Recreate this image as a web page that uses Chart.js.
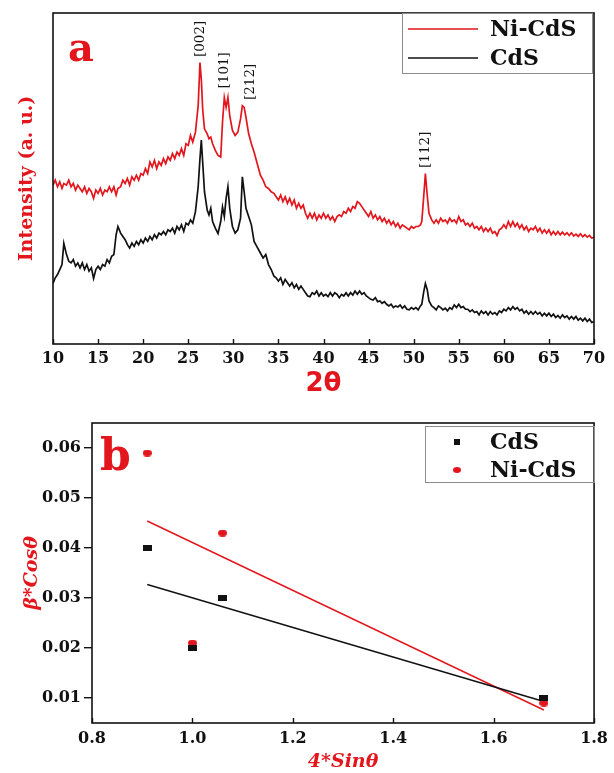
<!DOCTYPE html>
<html lang="en">
<head>
<meta charset="UTF-8">
<title>XRD patterns and W-H plot</title>
<script src="https://cdn.jsdelivr.net/npm/chart.js"></script>
<style>
  html, body { margin: 0; padding: 0; background: #fff; }
  .page { position: relative; width: 614px; height: 773px; overflow: hidden; }
  canvas { position: absolute; left: 0; }
  #xrd { top: 0; }
  #wh { top: 400px; }
</style>
</head>
<body>
<div class="page">
  <canvas id="xrd" width="614" height="400"></canvas>
  <canvas id="wh" width="614" height="373"></canvas>
</div>

<script>
const RED = '#e2161c';
const BLACK = '#111111';

// ---- panel a : XRD patterns (intensity in arbitrary units)
const twoTheta = [
  10, 10.25, 10.5, 10.75, 11, 11.2, 11.5, 11.75, 12, 12.25,
  12.5, 12.75, 13, 13.25, 13.5, 13.75, 14, 14.25, 14.5, 14.75,
  15, 15.25, 15.5, 15.75, 16, 16.25, 16.5, 16.75, 17, 17.2,
  17.5, 17.75, 18, 18.25, 18.5, 18.75, 19, 19.25, 19.5, 19.75,
  20, 20.25, 20.5, 20.75, 21, 21.25, 21.5, 21.75, 22, 22.25,
  22.5, 22.75, 23, 23.25, 23.5, 23.75, 24, 24.25, 24.5, 24.75,
  25, 25.25, 25.5,
  25.8, 26.1, 26.3, 26.45, 26.6, 26.8, 27.1, 27.3, 27.5, 27.7,
  28, 28.3, 28.6, 28.8, 29, 29.2, 29.4, 29.6, 29.9, 30.2,
  30.5, 30.8, 31, 31.2, 31.4, 31.7, 32, 32.3, 32.6, 33,
  33.3, 33.6, 33.9, 34.2, 34.5,
  34.75, 35, 35.25, 35.5, 35.75, 36, 36.25, 36.5, 36.75, 37,
  37.25, 37.5, 37.75, 38, 38.25, 38.5, 38.75, 39, 39.25, 39.5,
  39.75, 40, 40.25, 40.5, 40.75, 41, 41.25, 41.5, 41.75, 42,
  42.25, 42.5, 42.75, 43, 43.25, 43.5, 43.75, 44, 44.25, 44.5,
  44.75, 45, 45.25, 45.5, 45.75, 46, 46.25, 46.5, 46.75, 47,
  47.25, 47.5, 47.75, 48, 48.25, 48.5, 48.75, 49, 49.25, 49.5,
  49.75, 50, 50.25, 50.5, 50.75,
  50.9, 51.1, 51.3, 51.5, 51.7, 52,
  52.25, 52.5, 52.75, 53, 53.25, 53.5, 53.75, 54, 54.25, 54.5,
  54.75, 55, 55.25, 55.5, 55.75, 56, 56.25, 56.5, 56.75, 57,
  57.25, 57.5, 57.75, 58, 58.25, 58.5, 58.75, 59, 59.25, 59.5,
  59.75, 60, 60.25, 60.5, 60.75, 61, 61.25, 61.5, 61.75, 62,
  62.25, 62.5, 62.75, 63, 63.25, 63.5, 63.75, 64, 64.25, 64.5,
  64.75, 65, 65.25, 65.5, 65.75, 66, 66.25, 66.5, 66.75, 67,
  67.25, 67.5, 67.75, 68, 68.25, 68.5, 68.75, 69, 69.25, 69.5,
  69.75, 70
];
const niCdS = [
  48, 49.5, 47.5, 49, 47, 48.5, 48, 49.5, 47.5, 48.5,
  46.5, 48, 47, 46, 47.5, 45.5, 47, 46, 44, 46.5,
  45.5, 47, 45, 46.5, 46, 47.5, 46, 47.5, 45, 47,
  47.5, 49.5, 48.5, 50, 48, 50.5, 49.5, 51, 49.5, 51.5,
  51, 53, 51.5, 55, 53.5, 55.5, 53, 55, 54, 56,
  54.5, 56.5, 55.5, 57.5, 56, 58, 57, 59, 57, 60.5,
  60, 63, 61,
  64, 72, 85, 80, 71, 65, 63.5, 62, 62.5, 60.5,
  58.5, 57, 56.5, 67, 74.5, 71.5, 74.5, 69, 64.5, 63,
  64, 68, 72, 71.5, 68.5, 63.5, 60.5, 58, 55, 51,
  49.5, 47.5, 47, 46, 45.5,
  44.5, 43.5, 45, 43, 44.5, 42.5, 44, 42, 43.5, 41,
  42.5, 41, 42, 39.5, 38, 39.5, 38, 39.5, 37.5, 39,
  38, 39.5, 38, 39, 37.5, 38.5, 37, 38.5, 39, 38.5,
  40, 39.5, 41, 40, 41.5, 41, 43, 42.5, 41.5, 40.5,
  39.5, 38.5, 40, 38, 39, 37.5, 38.5, 37, 38, 36.5,
  37.5, 36, 37, 35.5, 36.5, 35, 36, 35.5, 35, 34.5,
  35.5, 35, 35.5, 35.5, 36,
  37, 44, 51.5, 45, 39.5, 37.5,
  36.5, 37.5, 36.5, 38, 37, 37.5, 36.5, 38, 37, 37.5,
  36.5, 38.5, 37, 37.5, 36, 36.5, 35.5, 36.5, 35, 35.5,
  34.5, 35.5, 34, 35, 34, 35, 33.5, 34, 32.8, 34.5,
  35, 36, 35, 37, 35.5, 37, 35.5, 36.5, 35, 36,
  34.5, 35.5, 34, 35, 34.5, 35.5, 34, 35, 33.5, 34.5,
  33.5, 34.5, 33, 34, 33, 34, 33, 33.8, 33, 33.6,
  32.8, 33.6, 32.6, 33.2, 32.5, 33.3, 32.4, 33, 32.3, 32.8,
  32, 32.2
];
const cdS = [
  18.3, 20, 21, 22.5, 24, 30.4, 27, 25, 24.5, 25.5,
  23.5, 24.5, 23, 24.5, 22.5, 24, 22, 23, 19.8, 22.5,
  23.5, 22.5, 24, 23.5, 25.5, 24.5, 26.5, 27, 33, 35.5,
  33.5, 32.5, 31.5, 30, 29, 30.5, 29.5, 31, 30, 31.5,
  30.5, 32, 31, 32.5, 31.5, 33, 32, 33.5, 33, 34,
  33, 34.5, 34, 35, 33.5, 35.5, 34.5, 36, 34, 36.5,
  36, 37.5, 36.5,
  40, 47.5, 56, 61.6, 55, 46, 40.5, 39, 41, 37,
  35, 33.4, 37, 41.4, 38.5, 44, 47.5, 41, 35.5, 33.5,
  34.5, 38, 50.5, 46, 41, 38.5, 36, 31, 29.5, 27.5,
  26, 27, 24, 22.5, 20.5,
  20, 19, 20, 18, 19.5, 18.5, 17.5, 18.5, 17, 18,
  16.5, 17.5, 16.5, 15.5, 14.5, 14.3, 15.5, 15, 16, 14.5,
  15.5, 14.5, 15, 14.3, 15.5, 14.5, 15.5, 15, 14, 15,
  14.5, 15.5, 14.5, 15.5, 14.8, 16, 15, 16, 15, 15.5,
  14.5, 14, 13.5, 13.3, 14, 12.8, 13, 12.3, 12.8, 12,
  11.5, 12, 11, 11.5, 11.2, 11.8, 10.8, 11.5, 10.5, 10.3,
  11, 10.5, 11, 10.3, 11.5,
  12, 15.5, 18.3, 16.5, 13, 11.5,
  11, 10.3, 11.5, 11, 10.3, 10.8, 10, 11, 10.5, 11.8,
  11, 12, 11, 11.3, 10.5, 10.5, 9.8, 10.3, 9.5, 9.8,
  8.8, 10, 9.2, 9.8, 8.8, 9.8, 9, 9.5, 8.8, 10,
  9.5, 10.5, 10, 11, 10.3, 11.3, 10.5, 11, 10, 10.5,
  9.3, 10, 9, 9.8, 9, 9.8, 9, 9.5, 8.5, 9.3,
  8.5, 9.3, 8.3, 9, 8, 8.6, 7.8, 8.8, 8, 8.5,
  7.5, 8.3, 7.5, 8.3, 7.2, 7.8, 7, 7.8, 6.8, 7.5,
  6.5, 6.8
];
const xrdTicks = [10, 15, 20, 25, 30, 35, 40, 45, 50, 55, 60, 65, 70];
const peakLabels = ['[002]', '[101]', '[212]', '[112]'];
const peakAngles = [26.35, 29.05, 31.9, 51.3];
const peakLabelBase = [86.7, 77.2, 73.7, 53.2];

// ---- panel b : Williamson-Hall plot
const sinTheta4 = [0.91, 1.00, 1.06, 1.70];
const cdSBeta = [0.040, 0.020, 0.030, 0.010];
const niCdSBeta = [0.059, 0.021, 0.043, 0.009];
const fitX = [0.91, 1.70];
const cdSFit = [0.0327, 0.0093];
const niCdSFit = [0.0454, 0.0076];
const whXTicks = [0.8, 1.0, 1.2, 1.4, 1.6, 1.8];
const whYTicks = [0.01, 0.02, 0.03, 0.04, 0.05, 0.06];

const pts = (xs, ys) => xs.map((x, i) => ({ x: x, y: ys[i] }));

function markerImage(w, h, color, round) {
  const c = document.createElement('canvas');
  c.width = w; c.height = h;
  const g = c.getContext('2d');
  g.fillStyle = color;
  if (round) {
    g.beginPath();
    g.ellipse(w / 2, h / 2, w / 2, h / 2, 0, 0, Math.PI * 2);
    g.fill();
  } else {
    g.fillRect(0, 0, w, h);
  }
  return c;
}

const tickFont = { family: 'DejaVu Serif', weight: 'bold', size: 16 };

// frame, inward x ticks, panel letter, boxed legend and peak labels
const decor = {
  id: 'decor',
  afterDraw(chart, args, o) {
    const ctx = chart.ctx, a = chart.chartArea;
    const xs = chart.scales.x, ys = chart.scales.y;
    ctx.save();

    (o.peaks || []).forEach(p => {
      ctx.save();
      ctx.translate(xs.getPixelForValue(p.x), ys.getPixelForValue(p.y));
      ctx.rotate(-Math.PI / 2);
      ctx.font = '13.5px "DejaVu Serif"';
      ctx.fillStyle = BLACK;
      ctx.textAlign = 'left';
      ctx.textBaseline = 'middle';
      ctx.fillText(p.text, 0, 0);
      ctx.restore();
    });

    ctx.strokeStyle = BLACK;
    ctx.lineWidth = 1.6;
    ctx.strokeRect(a.left, a.top, a.right - a.left, a.bottom - a.top);

    ctx.lineWidth = 1.4;
    xs.ticks.forEach(t => {
      const px = Math.round(xs.getPixelForValue(t.value)) + 0.5;
      ctx.beginPath();
      ctx.moveTo(px, a.bottom);
      ctx.lineTo(px, a.bottom - 5);
      ctx.stroke();
    });

    ctx.fillStyle = RED;
    ctx.font = o.letterFont;
    ctx.textAlign = 'left';
    ctx.textBaseline = 'alphabetic';
    ctx.fillText(o.letter, o.letterX, o.letterY);

    const L = o.legend;
    ctx.strokeStyle = '#8c8c8c';
    ctx.lineWidth = 1;
    ctx.strokeRect(L.x + 0.5, L.y + 0.5, L.w, L.h);
    ctx.font = 'bold 22px "DejaVu Serif"';
    ctx.textBaseline = 'middle';
    L.items.forEach((it, i) => {
      const y = L.y + L.rows[i];
      ctx.fillStyle = it.color;
      ctx.strokeStyle = it.color;
      if (it.kind === 'line') {
        ctx.lineWidth = 1.5;
        ctx.beginPath();
        ctx.moveTo(L.x + 6, y);
        ctx.lineTo(L.x + 76, y);
        ctx.stroke();
      } else if (it.kind === 'rect') {
        ctx.fillRect(L.x + 29, y - 3, 6, 6);
      } else {
        ctx.beginPath();
        ctx.ellipse(L.x + 32, y, 4, 3, 0, 0, Math.PI * 2);
        ctx.fill();
      }
      ctx.fillStyle = BLACK;
      ctx.fillText(it.text, L.x + L.textX, y + 1);
    });
    ctx.restore();
  }
};

new Chart(document.getElementById('xrd'), {
  type: 'line',
  data: {
    datasets: [
      { label: 'Ni-CdS', data: pts(twoTheta, niCdS), borderColor: RED, borderWidth: 1.7, pointRadius: 0, tension: 0 },
      { label: 'CdS', data: pts(twoTheta, cdS), borderColor: BLACK, borderWidth: 1.7, pointRadius: 0, tension: 0 }
    ]
  },
  options: {
    responsive: false,
    animation: false,
    devicePixelRatio: 1,
    layout: { padding: { top: 13, right: 20, left: 0, bottom: 0 } },
    plugins: {
      legend: { display: false },
      tooltip: { enabled: false },
      decor: {
        letter: 'a', letterX: 68, letterY: 61, letterFont: 'bold 40px "DejaVu Serif"',
        legend: {
          x: 402, y: 13, w: 190, h: 60, rows: [16, 45], textX: 88,
          items: [
            { text: 'Ni-CdS', color: RED, kind: 'line' },
            { text: 'CdS', color: BLACK, kind: 'line' }
          ]
        },
        peaks: peakLabels.map((t, i) => ({ text: t, x: peakAngles[i], y: peakLabelBase[i] }))
      }
    },
    scales: {
      x: {
        type: 'linear', min: 10, max: 70,
        afterBuildTicks: s => { s.ticks = xrdTicks.map(v => ({ value: v })); },
        afterFit: s => { s.height = 56; },
        grid: { display: false, drawTicks: false },
        border: { display: false },
        ticks: { color: BLACK, padding: 5, font: tickFont },
        title: { display: true, text: '2θ', color: RED, padding: 0,
                 font: { family: 'DejaVu Sans', weight: 'bold', size: 26 } }
      },
      y: {
        type: 'linear', min: 0, max: 100,
        afterFit: s => { s.width = 53; },
        grid: { display: false, drawTicks: false },
        border: { display: false },
        ticks: { display: false },
        title: { display: true, text: 'Intensity (a. u.)', color: RED, padding: { top: 16, bottom: 0 },
                 font: { family: 'DejaVu Serif', weight: 'bold', size: 19 } }
      }
    }
  },
  plugins: [decor]
});

new Chart(document.getElementById('wh'), {
  type: 'scatter',
  data: {
    datasets: [
      { label: 'CdS', data: pts(sinTheta4, cdSBeta), pointStyle: markerImage(9, 6, BLACK, false) },
      { label: 'Ni-CdS', data: pts(sinTheta4, niCdSBeta), pointStyle: markerImage(9, 7, RED, true) },
      { label: 'CdS fit', data: pts(fitX, cdSFit), showLine: true, borderColor: BLACK, borderWidth: 1.4, pointRadius: 0 },
      { label: 'Ni-CdS fit', data: pts(fitX, niCdSFit), showLine: true, borderColor: RED, borderWidth: 1.4, pointRadius: 0 }
    ]
  },
  options: {
    responsive: false,
    animation: false,
    devicePixelRatio: 1,
    layout: { padding: { top: 23, right: 17, left: 0, bottom: 0 } },
    plugins: {
      legend: { display: false },
      tooltip: { enabled: false },
      decor: {
        letter: 'b', letterX: 100, letterY: 70, letterFont: 'bold 44px "DejaVu Serif"',
        legend: {
          x: 425, y: 26, w: 169, h: 56, rows: [16, 44], textX: 65,
          items: [
            { text: 'CdS', color: BLACK, kind: 'rect' },
            { text: 'Ni-CdS', color: RED, kind: 'dot' }
          ]
        }
      }
    },
    scales: {
      x: {
        type: 'linear', min: 0.8, max: 1.8,
        afterBuildTicks: s => { s.ticks = whXTicks.map(v => ({ value: v })); },
        afterFit: s => { s.height = 50; },
        grid: { display: false, drawTicks: false },
        border: { display: false },
        ticks: { color: BLACK, padding: 6, font: tickFont, callback: v => v.toFixed(1) },
        title: { display: true, text: '4*Sinθ', color: RED, padding: 0,
                 font: { family: 'DejaVu Serif', weight: 'bold', style: 'italic', size: 19 } }
      },
      y: {
        type: 'linear', min: 0.005, max: 0.065,
        afterBuildTicks: s => { s.ticks = whYTicks.map(v => ({ value: v })); },
        afterFit: s => { s.width = 92; },
        grid: { display: true, drawOnChartArea: false, drawTicks: true, tickLength: 8, color: BLACK, lineWidth: 1.4 },
        border: { display: false },
        ticks: { color: BLACK, padding: 3, font: tickFont, callback: v => v.toFixed(2) },
        title: { display: true, text: 'β*Cosθ', color: RED, padding: { top: 21, bottom: 0 },
                 font: { family: 'DejaVu Serif', weight: 'bold', style: 'italic', size: 19 } }
      }
    }
  },
  plugins: [decor]
});
</script>
</body>
</html>
